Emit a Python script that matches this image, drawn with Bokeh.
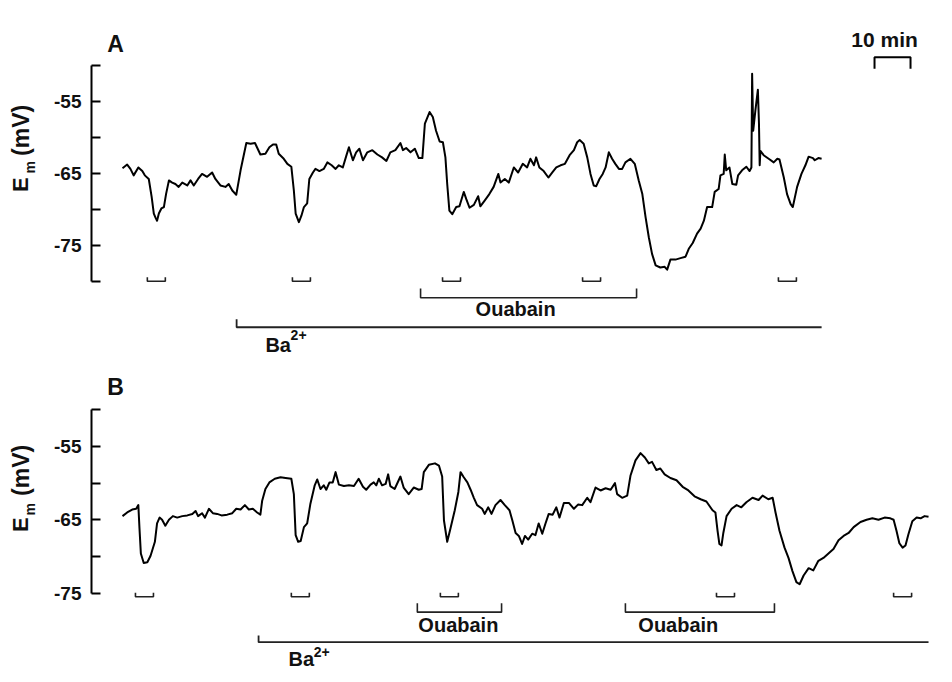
import math
from bokeh.plotting import figure
from bokeh.layouts import column, row
from bokeh.models import Range1d, FixedTicker
from bokeh.core.properties import value
from bokeh.embed import file_html
from bokeh.resources import INLINE

FONT = "Liberation Sans"

# ---- recording A: time (min) and membrane potential (mV) ----
a_time = [
    0.0, 1.3, 2.2, 3.1, 4.4, 5.5, 6.2, 7.3, 8.1, 8.7,
    9.2, 9.6, 10.1, 10.8, 11.5, 12.1, 12.9, 13.8, 14.7, 15.6,
    16.6, 18.0, 18.9, 19.8, 21.0, 22.1, 23.5, 24.9, 25.8, 27.2,
    28.6, 29.5, 30.5, 31.6, 32.8, 34.4, 35.6, 36.8, 38.3, 39.7,
    40.8, 41.8, 42.7, 43.4, 44.8, 45.8, 46.9, 47.6, 48.1, 49.0,
    49.7, 50.4, 51.3, 51.9, 52.9, 53.6, 54.7, 55.9, 56.9, 58.1,
    59.2, 60.1, 61.2, 62.1, 62.9, 64.0, 64.9, 65.8, 66.8, 68.0,
    69.4, 70.8, 72.1, 73.3, 74.4, 75.8, 77.2, 77.9, 78.8, 80.0,
    81.2, 82.3, 83.3, 84.0, 85.3, 86.2, 87.1, 88.1, 89.0, 89.7,
    90.2, 90.8, 91.6, 92.7, 93.6, 94.8, 95.5, 96.4, 97.6, 98.8,
    99.4, 100.6, 101.9, 103.1, 104.4, 105.0, 106.2, 107.3, 108.7, 109.9,
    111.2, 112.4, 113.3, 114.3, 114.9, 115.8, 117.0, 118.3, 119.4, 120.5,
    121.7, 122.9, 124.2, 125.4, 126.3, 127.0, 128.1, 129.1, 130.0, 130.9,
    131.6, 132.5, 133.4, 134.2, 135.1, 136.0, 136.9, 137.9, 138.8, 139.7,
    141.1, 142.3, 143.4, 144.4, 145.3, 146.2, 147.1, 148.1, 149.4, 150.6,
    151.3, 152.2, 153.6, 155.0, 156.4, 157.3, 158.4, 159.6, 160.6, 161.5,
    162.4, 163.8, 164.5, 165.6, 166.1, 167.0, 167.3, 167.7, 168.6, 169.4,
    170.5, 171.0, 172.1, 173.3, 174.2, 174.7, 174.9, 175.2, 175.8, 176.5,
    176.8, 177.0, 177.2, 178.1, 179.5, 180.9, 181.9, 182.5, 183.7, 184.6,
    185.6, 186.2, 187.4, 188.6, 189.7, 190.6, 191.8, 192.3, 193.3, 194.2,
]
a_mv = [
    -64.3, -63.8, -64.4, -65.3, -64.2, -64.7, -65.3, -65.8, -68.3, -70.6,
    -71.2, -71.6, -70.6, -69.9, -69.7, -67.9, -66.0, -66.3, -66.5, -66.9,
    -66.3, -66.7, -66.0, -66.7, -65.8, -65.1, -65.5, -64.9, -65.8, -66.7,
    -66.9, -66.5, -67.4, -68.0, -64.6, -60.8, -60.9, -60.8, -62.4, -62.3,
    -61.4, -61.0, -61.0, -62.3, -63.0, -63.7, -64.1, -67.4, -70.6, -71.8,
    -70.9, -69.7, -69.2, -65.8, -64.9, -64.4, -64.7, -64.4, -63.5, -63.9,
    -64.4, -63.9, -64.2, -62.7, -61.4, -63.2, -62.1, -61.6, -63.2, -62.1,
    -61.8, -62.4, -62.8, -63.3, -62.1, -61.8, -60.8, -61.8, -61.5, -62.1,
    -61.6, -62.9, -62.9, -58.1, -56.5, -57.2, -59.1, -60.6, -60.7, -62.8,
    -66.5, -70.2, -70.7, -69.7, -69.6, -67.6, -68.6, -69.8, -69.4, -68.2,
    -69.6, -68.8, -67.9, -66.9, -65.1, -66.3, -65.8, -66.3, -64.2, -64.9,
    -63.7, -64.2, -63.0, -63.9, -62.8, -64.2, -64.7, -65.6, -64.9, -64.2,
    -63.9, -63.7, -62.5, -61.8, -60.7, -60.4, -60.9, -62.8, -65.1, -66.7,
    -66.8, -65.8, -65.1, -64.2, -62.1, -63.0, -63.7, -64.4, -64.4, -63.5,
    -63.0, -63.7, -66.0, -67.9, -71.1, -73.9, -76.2, -77.8, -78.1, -78.0,
    -78.4, -77.0, -77.0, -76.8, -76.6, -75.5, -74.7, -73.4, -72.7, -71.6,
    -69.7, -69.7, -67.6, -67.2, -65.3, -65.1, -62.4, -64.6, -64.2, -66.5,
    -66.6, -65.3, -64.6, -64.1, -64.7, -64.2, -51.2, -59.1, -56.3, -53.4,
    -58.1, -63.9, -61.9, -62.5, -63.0, -63.5, -63.0, -63.1, -65.6, -67.9,
    -69.3, -69.7, -66.9, -65.1, -63.9, -62.7, -62.9, -63.2, -62.9, -63.0,
]

# ---- recording B ----
b_time = [
    0.0, 1.3, 2.7, 3.8, 4.4, 4.7, 5.1, 5.9, 6.9, 7.8,
    9.0, 9.6, 10.3, 11.0, 11.9, 12.9, 14.0, 15.2, 16.6, 18.0,
    19.4, 20.3, 21.0, 22.1, 22.9, 24.0, 25.1, 26.3, 27.5, 29.1,
    30.5, 31.6, 32.8, 34.0, 35.1, 36.2, 37.4, 38.3, 38.8, 39.7,
    40.8, 42.3, 43.9, 45.3, 46.9, 47.6, 48.1, 48.8, 49.5, 50.4,
    51.3, 52.2, 53.4, 54.1, 55.0, 55.9, 56.6, 57.5, 58.4, 59.2,
    60.1, 61.5, 62.9, 64.3, 65.6, 66.8, 67.7, 68.9, 69.8, 70.5,
    71.2, 72.1, 73.1, 73.8, 74.4, 75.6, 77.2, 78.1, 79.5, 80.9,
    82.3, 83.1, 83.7, 85.1, 86.8, 87.9, 88.8, 89.3, 90.2, 91.1,
    92.3, 93.3, 93.9, 94.8, 95.8, 96.7, 97.6, 98.5, 99.9, 100.6,
    101.6, 102.5, 103.6, 105.0, 106.2, 107.5, 108.3, 109.2, 110.1, 111.0,
    111.8, 112.7, 113.8, 114.7, 115.6, 116.6, 117.5, 118.4, 119.5, 120.5,
    121.4, 122.6, 124.0, 125.4, 126.6, 127.7, 129.1, 130.0, 131.4, 132.8,
    134.2, 135.6, 136.8, 137.4, 138.8, 140.2, 141.1, 142.5, 143.9, 145.1,
    146.2, 147.1, 148.3, 149.4, 150.6, 152.2, 153.9, 155.6, 157.2, 158.9,
    160.6, 162.2, 163.9, 164.7, 165.3, 165.8, 166.4, 166.9, 167.8, 169.2,
    170.6, 171.9, 173.3, 175.0, 176.7, 177.8, 179.4, 180.6, 181.4, 182.5,
    183.9, 185.0, 186.1, 187.2, 188.1, 189.2, 190.6, 191.9, 193.3, 194.7,
    196.1, 197.5, 198.9, 200.3, 201.7, 203.1, 205.0, 206.7, 208.3, 210.0,
    211.7, 213.3, 214.2, 215.0, 215.8, 216.7, 217.5, 218.3, 219.4, 220.6,
    221.7, 222.8, 223.9,
]
b_mv = [
    -64.5, -64.0, -63.6, -63.5, -63.0, -66.0, -69.6, -70.9, -70.8, -69.9,
    -68.0, -65.5, -64.7, -65.0, -65.8, -65.0, -64.5, -64.7, -64.5, -64.4,
    -64.2, -63.8, -64.5, -64.1, -64.7, -63.5, -64.1, -64.2, -64.4, -64.3,
    -64.1, -63.5, -63.6, -63.0, -63.6, -63.5, -64.0, -64.3, -62.4, -60.8,
    -59.9, -59.4, -59.2, -59.3, -59.4, -61.5, -67.1, -68.0, -67.9, -66.0,
    -65.5, -62.8, -60.3, -59.5, -60.8, -60.3, -60.9, -59.9, -59.9, -58.5,
    -60.2, -60.4, -60.3, -60.4, -59.4, -60.5, -60.9, -60.2, -59.9, -60.3,
    -59.4, -60.3, -60.1, -58.8, -60.4, -60.8, -59.1, -60.6, -61.5, -60.6,
    -60.9, -60.8, -58.5, -57.5, -57.3, -57.6, -59.1, -65.1, -68.0, -66.2,
    -63.7, -61.2, -58.5, -59.2, -59.9, -60.9, -62.0, -63.0, -63.5, -64.2,
    -63.3, -64.2, -63.0, -62.3, -63.0, -63.7, -65.1, -66.8, -67.2, -68.3,
    -67.2, -67.7, -66.9, -67.1, -65.5, -66.9, -65.5, -64.2, -64.3, -63.3,
    -64.7, -62.7, -62.7, -63.5, -62.9, -63.0, -62.0, -62.6, -60.6, -61.0,
    -60.7, -60.9, -60.0, -61.5, -62.0, -61.7, -59.0, -56.9, -55.9, -56.5,
    -57.3, -57.1, -58.2, -58.0, -58.8, -59.3, -59.6, -60.5, -61.0, -61.8,
    -62.2, -62.5, -63.7, -64.0, -66.5, -68.3, -68.5, -66.8, -64.5, -63.5,
    -63.0, -63.3, -62.6, -62.0, -62.3, -61.7, -62.2, -62.0, -64.0, -66.5,
    -68.8, -70.2, -72.0, -73.5, -73.8, -72.6, -71.6, -71.9, -70.6, -70.2,
    -69.6, -69.0, -67.8, -67.2, -66.8, -66.0, -65.3, -65.0, -64.8, -65.0,
    -64.7, -64.8, -65.0, -66.5, -68.2, -68.8, -68.5, -67.0, -65.2, -64.7,
    -64.8, -64.5, -64.6,
]

# ---- drug applications (min) ----
test_len = 5.0
a_test_start = [6.9, 47.2, 88.9, 127.8, 182.2]
b_test_start = [3.6, 46.9, 88.3, 165.0, 214.2]
a_ouabain = [(82.8, 142.8)]
b_ouabain = [(81.9, 105.3), (139.7, 181.1)]
a_barium = (31.7, 194.2)
b_barium = (37.8, 223.9)
scale_bar_min = 10.0

# y-axis tick values and their printed labels
tick_labels = {-75: "-75", -65: "-65", -55: "-55"}

X_START, X_END = -8.61, 230.56
LABEL_W = 40


def add_text(p, x, y, text, size, align="left", angle=0.0):
    p.text(x=[x], y=[y], text=[text], text_font=value(FONT), text_font_style="bold",
           text_font_size=size, text_color="#111111", text_align=align,
           text_baseline="alphabetic", angle=angle)


def make_title_strip(height, y_lo, y_hi, ys):
    """Narrow strip holding the rotated E_m (mV) axis title."""
    s = figure(width=LABEL_W, height=height, x_range=Range1d(0, LABEL_W),
               y_range=Range1d(y_lo, y_hi), output_backend="svg", toolbar_location=None,
               x_axis_location=None, y_axis_location=None, min_border=0,
               outline_line_color=None, background_fill_color="white",
               border_fill_color="white")
    s.grid.visible = False
    ey, my, uy = ys
    add_text(s, 20.0, ey, "E", "22px", angle=math.pi / 2)
    add_text(s, 29.5, my, "m", "14px", angle=math.pi / 2)
    add_text(s, 20.0, uy, "(mV)", "23px", angle=math.pi / 2)
    return s


def make_panel(letter, t, mv, height, y_lo, y_hi, axis_lo, tests, ouabain, barium, lv):
    p = figure(width=952 - LABEL_W, height=height, x_range=Range1d(X_START, X_END),
               y_range=Range1d(y_lo, y_hi), output_backend="svg", toolbar_location=None,
               x_axis_location=None, min_border_left=91 - LABEL_W, min_border_right=0,
               min_border_top=0, min_border_bottom=0, outline_line_color=None,
               background_fill_color="white", border_fill_color="white")
    p.grid.visible = False

    ax = p.yaxis[0]
    ax.bounds = (axis_lo, -50)
    ax.ticker = FixedTicker(ticks=list(tick_labels),
                            minor_ticks=[v for v in [-80, -70, -60, -50] if v >= axis_lo])
    ax.major_label_overrides = tick_labels
    ax.axis_line_width = 2
    ax.axis_line_color = "black"
    ax.major_tick_line_width = 2
    ax.minor_tick_line_width = 2
    ax.major_tick_in = 9
    ax.major_tick_out = 0
    ax.minor_tick_in = 9
    ax.minor_tick_out = 0
    ax.major_label_standoff = 10
    ax.major_label_text_font = FONT
    ax.major_label_text_font_style = "bold"
    ax.major_label_text_font_size = "19px"
    ax.major_label_text_color = "#111111"

    # membrane potential trace
    p.line(t, mv, line_color="black", line_width=2, line_join="round")

    # short test applications
    top, bot = lv["test"]
    p.multi_line(xs=[[s, s, s + test_len, s + test_len] for s in tests],
                 ys=[[top, bot, bot, top] for _ in tests],
                 line_color="#222222", line_width=1.6)

    # ouabain periods
    top, bot = lv["ouabain"]
    p.multi_line(xs=[[s, s, e, e] for s, e in ouabain],
                 ys=[[top, bot, bot, top] for _ in ouabain],
                 line_color="#222222", line_width=1.6)
    for cx in lv["ouabain_text_x"]:
        add_text(p, cx, lv["ouabain_text_y"], "Ouabain", "20px", "center")

    # Ba2+ period
    top, bot = lv["barium"]
    s, e = barium
    p.multi_line(xs=[[s, s, e]], ys=[[top, bot, bot]], line_color="#222222", line_width=1.8)
    bx, by, sx, sy = lv["barium_text"]
    add_text(p, bx, by, "Ba", "20px")
    add_text(p, sx, sy, "2+", "14px")

    # panel letter
    add_text(p, X_START + 4.4, lv["letter_y"], letter, "23px")
    return p


A_LO, A_HI = -91.71, -41.01
pa = make_panel("A", a_time, a_mv, 365, A_LO, A_HI, -80, a_test_start, a_ouabain, a_barium, {
    "test": (-79.45, -80.0),
    "ouabain": (-81.0, -82.3),
    "ouabain_text_x": [109.2],
    "ouabain_text_y": -83.85,
    "barium": (-85.3, -86.4),
    "barium_text": (39.7, -88.85, 46.7, -87.5),
    "letter_y": -47.1,
})

# 10 min scale bar
sb0 = 208.9
pa.line([sb0, sb0, sb0 + scale_bar_min, sb0 + scale_bar_min], [-50.5, -48.9, -48.9, -50.5],
        line_color="black", line_width=2)
add_text(pa, 211.7, -46.4, "10 min", "21px", "center")

B_LO, B_HI = -87.2, -43.95
pb = make_panel("B", b_time, b_mv, 317, B_LO, B_HI, -75, b_test_start, b_ouabain, b_barium, {
    "test": (-74.95, -75.5),
    "ouabain": (-76.4, -77.6),
    "ouabain_text_x": [93.3, 154.4],
    "ouabain_text_y": -79.3,
    "barium": (-80.8, -81.7),
    "barium_text": (46.1, -84.0, 53.1, -83.1),
    "letter_y": -46.95,
})

sa = make_title_strip(365, A_LO, A_HI, (-67.6, -65.05, -62.6))
sb = make_title_strip(317, B_LO, B_HI, (-66.65, -64.4, -61.75))

layout = column(row(sa, pa, spacing=0), row(sb, pb, spacing=0), spacing=0)
open("out.html", "w").write(file_html(layout, INLINE))
